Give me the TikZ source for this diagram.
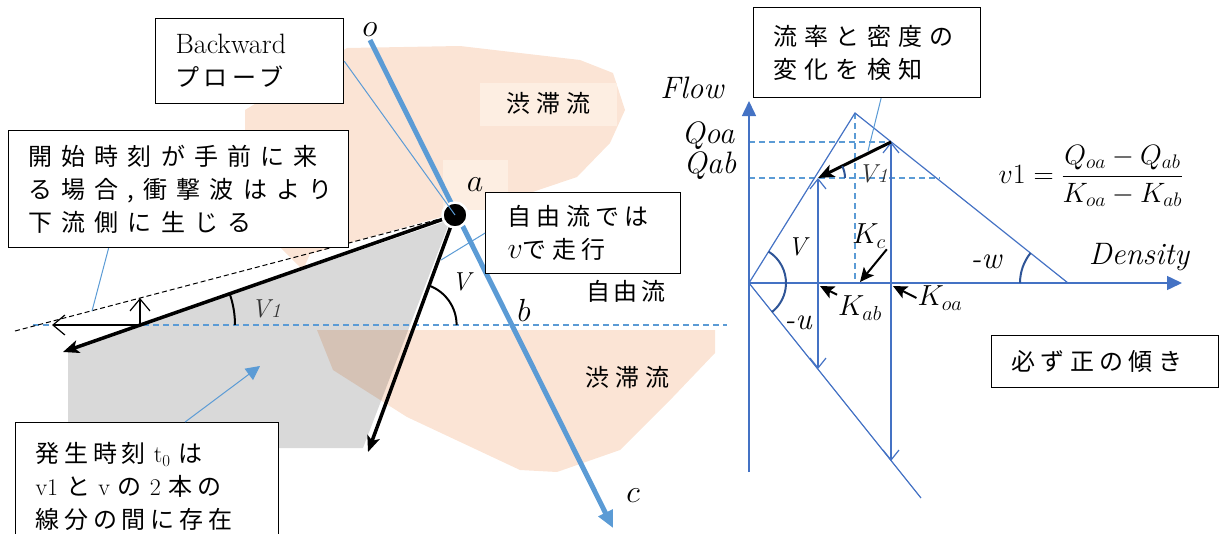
\RequirePackage{fix-cm}
\documentclass[tikz,border=0pt]{standalone}
\usepackage{fontspec}
\usepackage{amsmath}
\newfontfamily\jp{Noto Sans CJK JP}
\usetikzlibrary{arrows.meta, positioning, calc}
\definecolor{shockblue}{HTML}{5B9BD5}
\definecolor{axisblue}{HTML}{4472C4}
\definecolor{arcnavy}{HTML}{2F5597}
\definecolor{jampeach}{HTML}{FBE4D5}
\definecolor{jamlight}{HTML}{FDEEE2}
\definecolor{zonegrey}{HTML}{D9D9D9}
\definecolor{labelgrey}{HTML}{333333}

\begin{document}
\begin{tikzpicture}[
  x=1pt, y=-1pt,
  box/.style={draw, line width=1.2pt, fill=white, inner xsep=20pt, inner ysep=0pt,
    align=left, anchor=north west},
  jpfont/.style={font=\jp\fontsize{24}{33}\selectfont\addfontfeatures{LetterSpace=#1}},
  jpfont/.default=20,
  mathlab/.style={font=\fontsize{32}{34}\selectfont, inner sep=1pt},
  klab/.style={font=\fontsize{29}{31}\selectfont, inner sep=1pt},
  itlab/.style={font=\fontsize{31}{33}\selectfont\itshape, inner sep=1pt},
  vlab/.style={font=\fontsize{26}{28}\selectfont\itshape, inner sep=1pt},
  thickarrow/.style={-{Stealth[length=16pt, width=13pt, inset=4pt]}, line width=3.5pt},
  openarrow/.style={-{Straight Barb[length=12pt, width=20pt]}, line width=1.2pt},
  callout/.style={shockblue, line width=1pt},
  anglearc/.style={line width=2pt},
  axis/.style={axisblue, line width=1.5pt, -{Triangle[length=15pt, width=14pt]}},
  fd/.style={axisblue, line width=1.2pt},
  fdbarbs/.style={{Straight Barb[length=10pt, width=16pt]}-{Straight Barb[length=10pt, width=16pt]}},
  guide/.style={shockblue, line width=1.3pt, dash pattern=on 6pt off 4pt},
  pointer/.style={-{Stealth[length=14pt, width=13pt, inset=3pt]}, line width=2pt},
]
\useasboundingbox (0,0) rectangle (1221,533);

% Zones
\fill[jampeach] (347,48) -- (460,46) -- (580,60) -- (613,73) -- (625,110) -- (610,143)
  -- (577,177) -- (500,203) -- (455,213) -- (310,254) -- (303,270) -- (280,247)
  -- (245,230) -- (245,110) -- cycle;
\fill[zonegrey] (452,219) -- (68,350) -- (68,448) -- (363,448) -- (448,226) -- cycle;
\begin{scope}[blend mode=multiply]
  \fill[jampeach] (317,330) -- (715,330) -- (715,353) -- (673,397) -- (620,450)
    -- (557,472) -- (520,470) -- (407,417) -- (333,370) -- cycle;
\end{scope}

% Zone labels
\node[jpfont=25, fill=jamlight, minimum width=137pt, minimum height=43pt] (jamtop) at (548,104) {渋滞流};
\node[jpfont=25] (jambot) at (627,378) {渋滞流};
\node[jpfont=15] (freelab) at (626,291) {自由流};
\node[mathlab, fill=jamlight, minimum width=65pt, minimum height=50pt] (alab) at (475,185) {$a$};

% Left: time-space lines
\coordinate (a) at (455,215);
\coordinate (o) at (370,40);
\coordinate (c) at (613,528);
\coordinate (hl) at (33,325);
\coordinate (hr) at (727,325);
\coordinate (dl) at (15,331);
\coordinate (v1end) at (63,352);
\coordinate (vend) at (368,452);
\coordinate (v1c) at (140,325);
\coordinate (vc) at (414.6,325);
\coordinate (backtip) at (52,325);
\coordinate (uptip) at (140,298);

\draw[guide] (hl) -- (hr);
\draw[line width=1pt, dash pattern=on 5pt off 3pt] (dl) -- (a);
\draw[shockblue, line width=5pt, -{Triangle[length=17pt, width=15pt]}] (o) -- (c);
\draw[thickarrow] (a) -- (v1end);
\draw[thickarrow] (a) -- (vend);
\draw[openarrow] (v1c) -- (backtip);
\draw[openarrow] (v1c) -- (uptip);
\draw[anglearc] (v1c) ++(95,0) arc[start angle=0, end angle=-19.3, radius=95];
\draw[anglearc] (vc) ++(42,0) arc[start angle=0, end angle=-70, radius=42];

\node[vlab, labelgrey] (v1lab) at (266,309) {V\kern1pt{\fontsize{20}{20}\selectfont 1}};
\node[vlab] (vlab) at (461,282) {V};
\node[mathlab] (olab) at (370,30) {$o$};
\node[mathlab] (blab) at (524,310) {$b$};
\node[mathlab] (clab) at (633,496) {$c$};

\node[circle, fill=black, draw=white, line width=2.5pt, minimum size=25pt, inner sep=0pt] (adot) at (a) {};

% Boxes
\node[box, jpfont=18, text width=148pt, minimum height=85pt] (probe) at (155,18)
  {{\rmfamily\fontsize{28}{33}\selectfont Backward}\\プローブ};
\node[box, jpfont=38, text width=300pt, minimum height=117pt] (early) at (8,130)
  {開始時刻が手前に来\\る場合,衝撃波はより\\下流側に生じる};
\node[box, jpfont=22, inner xsep=22pt, text width=151pt, minimum height=81pt] (freebox) at (485,192)
  {自由流では\\{\fontsize{30}{33}\selectfont$v$}で走行};
\node[box, jpfont=20, text width=223pt, minimum height=128pt] (onset) at (15,422)
  {発生時刻 {\rmfamily t\textsubscript{0}} は\\{\rmfamily v1} と {\rmfamily v} の {\rmfamily 2} 本の\\線分の間に存在};
\node[box, jpfont=30, text width=187pt, minimum height=90pt] (detect) at (753,7)
  {流率と密度の\\変化を検知};
\node[box, jpfont=22, text width=187pt, minimum height=52pt] (positive) at (991,335)
  {必ず正の傾き};

% Callouts
\coordinate (dashpt) at (92,311);
\coordinate (vpt) at (441,260);
\coordinate (gapin) at (260,366);
\draw[callout] (probe.east) -- (a);
\draw[callout] ([xshift=-70pt]early.south) -- (dashpt);
\draw[callout] (freebox.west) -- (vpt);
\draw[callout, -{Triangle[length=14pt, width=14pt]}] ([xshift=38pt]onset.north) -- (gapin);

% Right: fundamental diagram
\coordinate (O) at (749,283);
\coordinate (ftop) at (749,101);
\coordinate (fbot) at (749,472);
\coordinate (dtip) at (1182,283);
\coordinate (apex) at (855,113);
\coordinate (wend) at (1068,283);
\coordinate (uend) at (921,498);
\coordinate (poa) at (891,142);
\coordinate (pab) at (818,178);
\coordinate (kabdn) at (818,369);
\coordinate (koadn) at (891,461);
\coordinate (kcb) at (855,283);
\coordinate (qoa0) at (749,142);
\coordinate (qab0) at (749,178);
\coordinate (qabr) at (940,178);

\draw[guide] (qoa0) -- (poa);
\draw[guide] (qab0) -- (qabr);
\draw[guide] (apex) -- (kcb);
\draw[axis] (fbot) -- (ftop);
\draw[axis] (O) -- (dtip);
\draw[fd] (O) -- (apex) -- (wend);
\draw[fd] (O) -- (uend);
\draw[fd, fdbarbs] (kabdn) -- (pab);
\draw[fd, fdbarbs] (koadn) -- (poa);
\draw[thickarrow, line width=3pt] (poa) -- (pab);

\draw[anglearc, arcnavy] (pab) ++(27,0) arc[start angle=0, end angle=-26, radius=27];
\draw[anglearc, arcnavy] (O) ++(-58:37) arc[start angle=-58, end angle=52, radius=37];
\draw[anglearc, arcnavy] (wend) ++(180:48) arc[start angle=180, end angle=218.6, radius=48];

\node[itlab] (flowlab) at (692,88) {Flow};
\node[itlab] (denslab) at (1139,257) {Density};
\node[itlab] (qoalab) at (708,136) {Qoa};
\node[itlab] (qablab) at (710,166) {Qab};
\node[font=\fontsize{28}{32}\selectfont] (eq) at (1091,176) {$v1=\dfrac{Q_{oa}-Q_{ab}}{K_{oa}-K_{ab}}$};
\node[klab] (kclab) at (869,236) {$K_c$};
\node[klab] (kablab) at (860,308) {$K_{ab}$};
\node[klab] (koalab) at (940,298) {$K_{oa}$};
\node[vlab] (vvlab) at (797,247) {V};
\node[itlab] (ulab) at (798,323) {-u};
\node[itlab] (wlab) at (986,262) {-w};
\node[vlab, labelgrey] (v1rlab) at (873,174) {V\kern1pt{\fontsize{20}{20}\selectfont 1}};

\coordinate (kcpt) at (860,282);
\coordinate (kabpt) at (820,286);
\coordinate (koapt) at (893,286);
\coordinate (v1mid) at (868,151);
\draw[pointer] (kclab.south east) -- (kcpt);
\draw[pointer] (kablab.north west) -- (kabpt);
\draw[pointer] (koalab.west) -- (koapt);
\draw[callout] ([xshift=14pt]detect.south) -- (v1mid);

\end{tikzpicture}
\end{document}
